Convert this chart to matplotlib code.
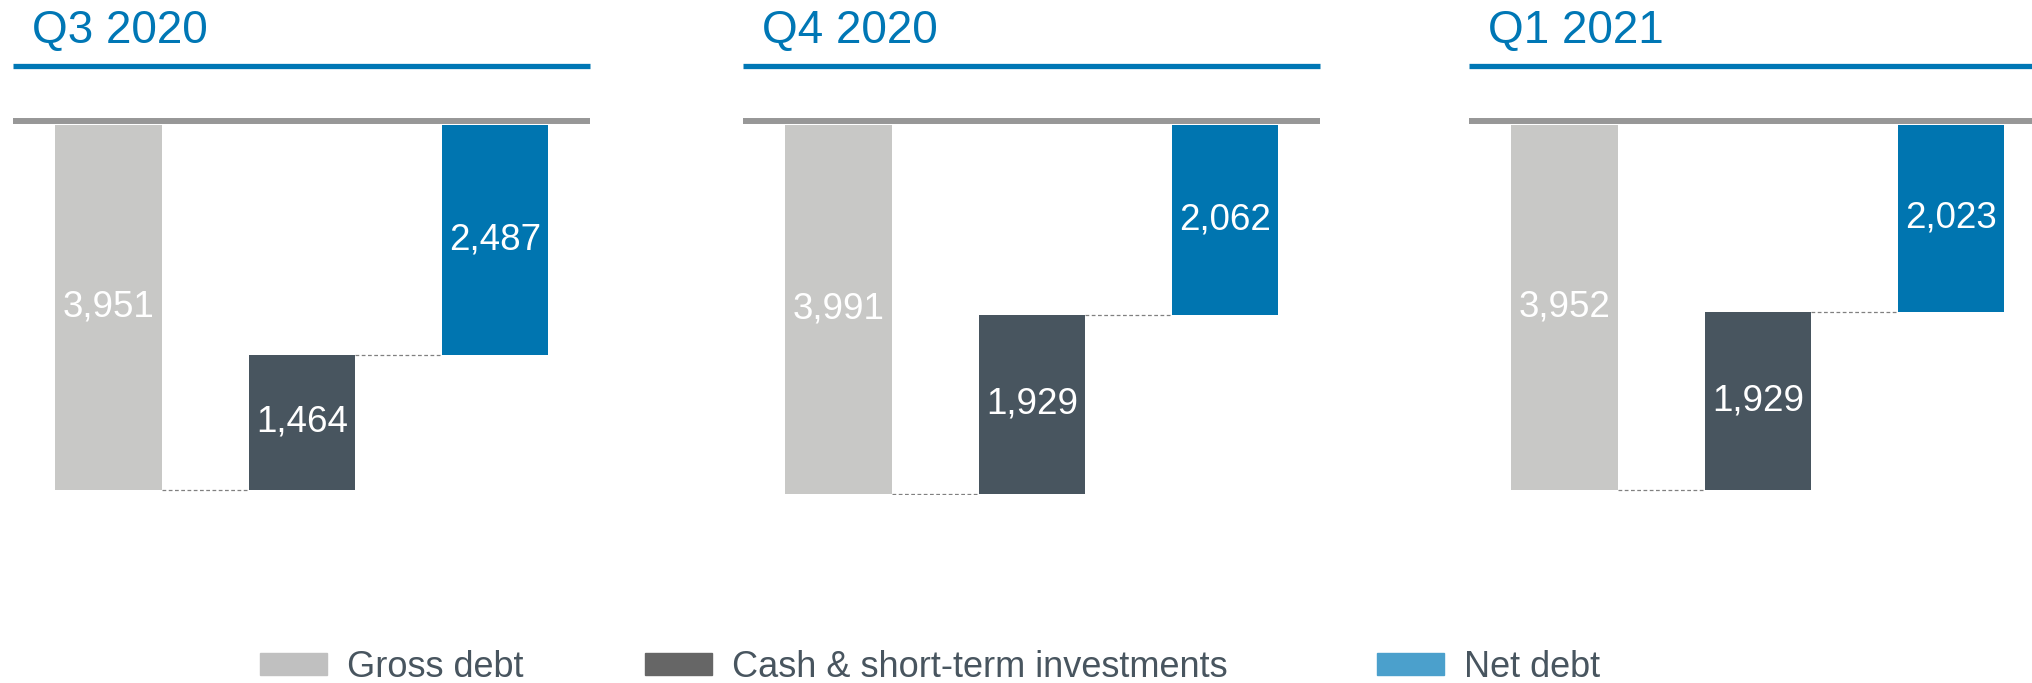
import matplotlib
matplotlib.use("Agg")
import matplotlib.pyplot as plt
from matplotlib.lines import Line2D
from matplotlib.patches import Rectangle

plt.rcParams['font.family'] = ['Liberation Sans', 'DejaVu Sans']

periodos = ["Q3 2020", "Q4 2020", "Q1 2021"]
deuda_bruta = [3951, 3991, 3952]
caja = [1464, 1929, 1929]
deuda_neta = [2487, 2062, 2023]
leyenda = ["Gross debt", "Cash & short-term investments", "Net debt"]

COLOR_BRUTA = "#C8C8C6"
COLOR_CAJA = "#48555F"
COLOR_NETA = "#0075B0"
COLOR_TITULO = "#0077B5"
COLOR_GRIS = "#979797"
COLORES_LEYENDA = ["#C0C0C0", "#666666", "#4BA0CC"]

W, H = 2033, 683
fig = plt.figure(figsize=(W / 100, H / 100), dpi=100)

def fx(px):
    return px / W

def fy(py):
    return 1 - py / H

izquierdas = [13, 743, 1469]
ANCHO_PANEL = 577
ANCHO_BARRA = 0.554

for i, periodo in enumerate(periodos):
    L = izquierdas[i]
    # titulo y lineas de cabecera
    fig.text(fx(L + 19), fy(43), periodo, fontsize=33, color=COLOR_TITULO, va="baseline")
    fig.add_artist(Line2D([fx(L), fx(L + ANCHO_PANEL)], [fy(66), fy(66)], color=COLOR_TITULO,
                          lw=3.8, transform=fig.transFigure, solid_capstyle="butt"))
    fig.add_artist(Line2D([fx(L), fx(L + ANCHO_PANEL)], [fy(121), fy(121)], color=COLOR_GRIS,
                          lw=4.3, transform=fig.transFigure, solid_capstyle="butt", zorder=5))

    ax = fig.add_axes([fx(L), fy(494.5), ANCHO_PANEL / W, 370 / H])
    ax.set_xlim(-0.497, 2.492)
    ax.set_ylim(4000, 0)
    ax.axis("off")

    g, c, n = deuda_bruta[i], caja[i], deuda_neta[i]
    ax.bar(0, g, width=ANCHO_BARRA, bottom=0, color=COLOR_BRUTA)
    ax.bar(1, c, width=ANCHO_BARRA, bottom=g - c, color=COLOR_CAJA)
    ax.bar(2, n, width=ANCHO_BARRA, bottom=0, color=COLOR_NETA)

    ax.plot([ANCHO_BARRA / 2, 1 - ANCHO_BARRA / 2], [g, g], color="#808080", lw=0.9, ls=(0, (3, 2)))
    ax.plot([1 + ANCHO_BARRA / 2, 2 - ANCHO_BARRA / 2], [g - c, g - c], color="#808080", lw=0.9, ls=(0, (3, 2)))

    ax.text(0, g / 2, f"{g:,}", color="white", fontsize=26.5, ha="center", va="center")
    ax.text(1, g - c / 2, f"{c:,}", color="white", fontsize=26.5, ha="center", va="center")
    ax.text(2, n / 2, f"{n:,}", color="white", fontsize=26.5, ha="center", va="center")

# leyenda manual
parches_x = [260, 645, 1377]
for x0, etiqueta, color in zip(parches_x, leyenda, COLORES_LEYENDA):
    fig.add_artist(Rectangle((fx(x0), fy(675)), 67 / W, 22 / H, color=color, transform=fig.transFigure))
    fig.text(fx(x0 + 87), fy(677), etiqueta, fontsize=26, color="#48555F", va="baseline")

fig.savefig("out.png", dpi=100)
